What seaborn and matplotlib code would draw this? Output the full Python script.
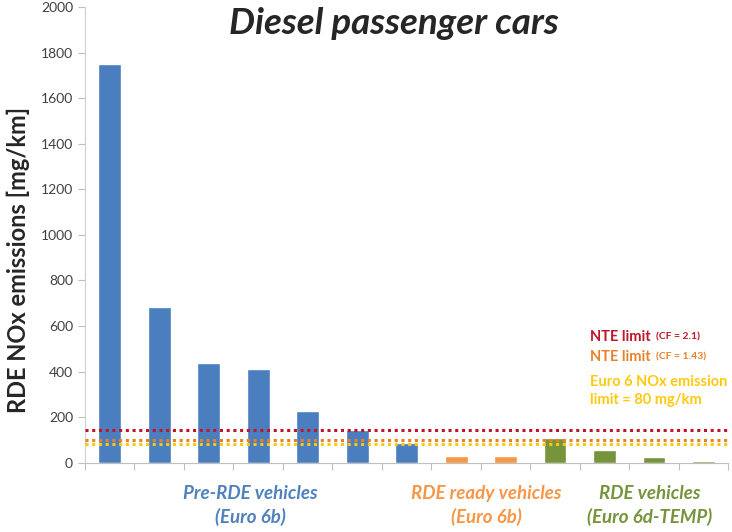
import matplotlib
matplotlib.use("Agg")
import matplotlib.pyplot as plt
import seaborn as sns
import pandas as pd
import numpy as np

vehicles = [f"V{i}" for i in range(1, 14)]
nox = [1750, 682, 440, 410, 229, 144, 85, 30, 28, 108, 56, 26, 10]
groups = ["Pre-RDE"] * 7 + ["RDE ready"] * 2 + ["RDE"] * 4
group_colors = {"Pre-RDE": "#4A7EBF", "RDE ready": "#F79646", "RDE": "#77933C"}
limit_values = [145, 101, 84]
limit_colors = ["#C0142B", "#E8822A", "#FFC90E"]

df = pd.DataFrame({"vehicle": vehicles, "nox": nox, "group": groups})

sns.set_style("white")
plt.rcParams["font.family"] = ["Lato", "DejaVu Sans"]

fig = plt.figure(figsize=(7.32, 5.32), dpi=100)
ax = fig.add_axes([0.116, 0.13, 0.879, 0.857])

sns.barplot(data=df, x="vehicle", y="nox", hue="group", palette=group_colors,
            dodge=False, width=0.46, legend=False, ax=ax, saturation=1)

for v, c in zip(limit_values, limit_colors):
    ax.axhline(v, color=c, linestyle=(0, (1, 1.2)), linewidth=2.2, zorder=3)

ax.set_xlim(-0.5, 12.5)
ax.set_ylim(0, 2000)
ax.set_yticks(np.arange(0, 2001, 200))
ax.tick_params(axis="y", labelsize=10, labelcolor="#404040", length=5, color="#BFBFBF", direction="out", left=True)
ax.set_xticks(np.arange(-0.5, 13, 1))
ax.set_xticklabels([])
ax.tick_params(axis="x", length=5, color="#BFBFBF", direction="out", bottom=True)
for s in ["top", "right"]:
    ax.spines[s].set_visible(False)
ax.spines["left"].set_color("#D0D0D0")
ax.spines["bottom"].set_color("#BFBFBF")
ax.set_xlabel("")
ax.set_ylabel("RDE NOx emissions [mg/km]", fontsize=17, fontweight="bold")
ax.yaxis.set_label_coords(-0.086, 0.445)

fig.text(0.538, 0.955, "Diesel passenger cars", fontsize=26.5, fontweight="bold",
         fontstyle="italic", ha="center", va="center")

# limit annotations
def limit_label(y, color, small):
    t = ax.text(0.785, y, "NTE limit", transform=ax.transAxes, color=color,
                fontsize=10.5, fontweight="bold", va="center")
    ax.annotate(small, xy=(1, 0.5), xycoords=t, xytext=(4, 0), textcoords="offset points",
                color=color, fontsize=7.5, fontweight="bold", va="center")

limit_label(0.276, "#C0142B", "(CF = 2.1)")
limit_label(0.232, "#E8822A", "(CF = 1.43)")
ax.text(0.785, 0.158, "Euro 6 NOx emission\nlimit = 80 mg/km", transform=ax.transAxes,
        color="#FFC90E", fontsize=10.5, fontweight="bold", va="center", linespacing=1.35)

# group labels
fig.text(0.342, 0.05, "Pre-RDE vehicles\n(Euro 6b)", color="#4F81BD", fontsize=13.5,
         fontweight="bold", fontstyle="italic", ha="center", va="center", linespacing=1.4)
fig.text(0.664, 0.05, "RDE ready vehicles\n(Euro 6b)", color="#F79646", fontsize=13.5,
         fontweight="bold", fontstyle="italic", ha="center", va="center", linespacing=1.4)
fig.text(0.888, 0.05, "RDE vehicles\n(Euro 6d-TEMP)", color="#77933C", fontsize=13.5,
         fontweight="bold", fontstyle="italic", ha="center", va="center", linespacing=1.4)

fig.savefig("out.png", dpi=100)
